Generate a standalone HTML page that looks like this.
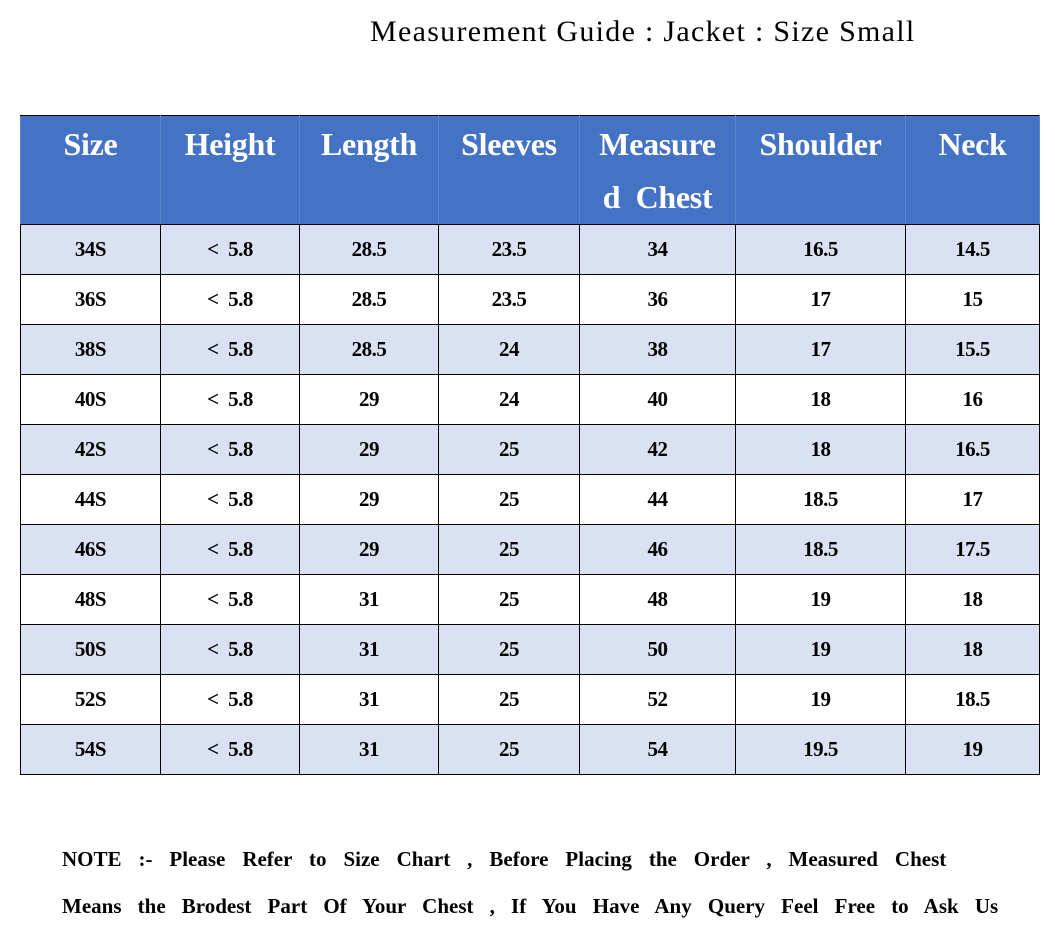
<!DOCTYPE html>
<html><head><meta charset="utf-8"><style>
body{margin:0;width:1055px;height:936px;background:#fff;position:relative;font-family:"Liberation Serif",serif;overflow:hidden}
.t{position:absolute;white-space:nowrap}
table{position:absolute;left:20px;top:115px;border-collapse:collapse;table-layout:fixed}
td{border:1px solid #000;text-align:center;font-weight:bold;font-size:21px;height:49px;padding:0;letter-spacing:-0.5px}
th{background:#4472C4;color:#fff;font-size:32px;height:106px;vertical-align:top;padding:2px 0 0;line-height:53px;border:1px solid #000;border-left:1px solid #5b84cc;border-right:1px solid #5b84cc;letter-spacing:-0.3px;box-sizing:border-box}
tr.a td{background:#D9E1F2}
</style></head><body>
<div class="t" style="left:370px;top:15px;font-size:30px;letter-spacing:1.3px">Measurement Guide : Jacket : Size Small</div>
<table>
<colgroup><col style="width:140px"><col style="width:139px"><col style="width:139px"><col style="width:141px"><col style="width:156px"><col style="width:170px"><col style="width:134px"></colgroup>
<tr style="height:109px"><th>Size</th><th>Height</th><th>Length</th><th>Sleeves</th><th>Measure<br>d&nbsp;&nbsp;Chest</th><th>Shoulder</th><th>Neck</th></tr>
<tr class="a"><td>34S</td><td>&lt;&nbsp; 5.8</td><td>28.5</td><td>23.5</td><td>34</td><td>16.5</td><td>14.5</td></tr>
<tr><td>36S</td><td>&lt;&nbsp; 5.8</td><td>28.5</td><td>23.5</td><td>36</td><td>17</td><td>15</td></tr>
<tr class="a"><td>38S</td><td>&lt;&nbsp; 5.8</td><td>28.5</td><td>24</td><td>38</td><td>17</td><td>15.5</td></tr>
<tr><td>40S</td><td>&lt;&nbsp; 5.8</td><td>29</td><td>24</td><td>40</td><td>18</td><td>16</td></tr>
<tr class="a"><td>42S</td><td>&lt;&nbsp; 5.8</td><td>29</td><td>25</td><td>42</td><td>18</td><td>16.5</td></tr>
<tr><td>44S</td><td>&lt;&nbsp; 5.8</td><td>29</td><td>25</td><td>44</td><td>18.5</td><td>17</td></tr>
<tr class="a"><td>46S</td><td>&lt;&nbsp; 5.8</td><td>29</td><td>25</td><td>46</td><td>18.5</td><td>17.5</td></tr>
<tr><td>48S</td><td>&lt;&nbsp; 5.8</td><td>31</td><td>25</td><td>48</td><td>19</td><td>18</td></tr>
<tr class="a"><td>50S</td><td>&lt;&nbsp; 5.8</td><td>31</td><td>25</td><td>50</td><td>19</td><td>18</td></tr>
<tr><td>52S</td><td>&lt;&nbsp; 5.8</td><td>31</td><td>25</td><td>52</td><td>19</td><td>18.5</td></tr>
<tr class="a"><td>54S</td><td>&lt;&nbsp; 5.8</td><td>31</td><td>25</td><td>54</td><td>19.5</td><td>19</td></tr>
</table>
<div class="t" style="left:62px;top:847px;font-size:21px;font-weight:bold;word-spacing:11.7px">NOTE :- Please Refer to Size Chart , Before Placing the Order , Measured Chest</div>
<div class="t" style="left:62px;top:894px;font-size:21px;font-weight:bold;word-spacing:10.9px">Means the Brodest Part Of Your Chest , If You Have Any Query Feel Free to Ask Us</div>
</body></html>
